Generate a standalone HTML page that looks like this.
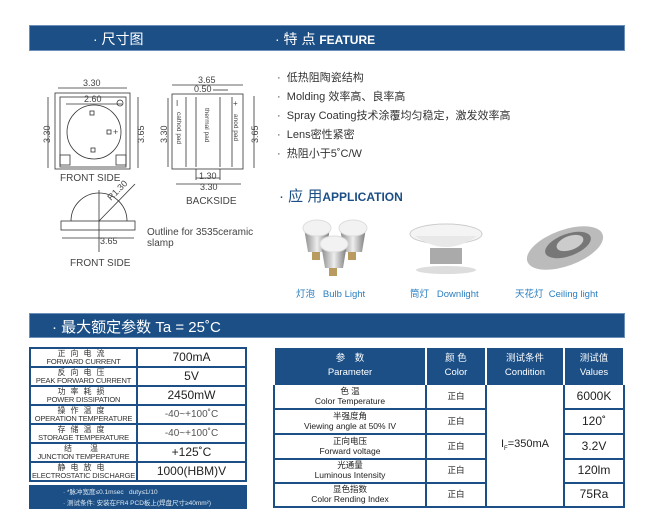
<!DOCTYPE html>
<html><head><meta charset="utf-8"><style>
*{margin:0;padding:0;box-sizing:border-box}
body{width:650px;height:532px;background:#fff;position:relative;overflow:hidden;font-family:"Liberation Sans","Noto Sans CJK SC",sans-serif;color:#222}
.bar{position:absolute;background:#1b4f86;color:#fff;border:1px solid #6b8fb8}
.a{position:absolute;white-space:nowrap}
table{border-collapse:collapse;position:absolute}
.lt{position:absolute;left:29px;top:347px;width:218px;border:2px solid #1b4f86;border-bottom:none}
.lr{display:flex;height:19px;border-bottom:2px solid #1b4f86}
.lk{width:107px;border-right:2px solid #1b4f86;text-align:center;overflow:hidden;white-space:nowrap;color:#333}
.lk b{font-weight:normal;letter-spacing:5px;font-size:8px;display:block;line-height:8px;margin-top:1px}
.lk i{font-style:normal;font-size:7.5px;display:block;line-height:8px;letter-spacing:-0.2px}
.lv{flex:1;text-align:center;font-size:12px;line-height:17px;white-space:nowrap}
.rt td{border:2px solid #1b4f86;text-align:center;font-size:8.5px;line-height:1.15}
.rt th{background:#1b4f86;color:#fff;font-weight:normal;font-size:9.5px;border:2px solid #fff;border-top:none;border-bottom:none;line-height:1.4}
.rt td.v{font-size:12px}
.feat{font-size:11px;color:#333}
.cap{font-size:9.5px;color:#2a7ec0}
</style></head><body>
<div class="bar" style="left:29px;top:25px;width:596px;height:26px"></div>
<div class="a" style="left:93px;top:29px;color:#fff;font-size:14px">· 尺寸图</div>
<div class="a" style="left:275px;top:29px;color:#fff;font-size:14px">· 特 点 <b style="font-size:12px">FEATURE</b></div>

<svg class="a" style="left:0;top:0" width="270" height="300" font-family="Liberation Sans" font-size="9" fill="#444">
<g stroke="#333" stroke-width="0.8" fill="none">
<rect x="55" y="93" width="75" height="76"/>
<rect x="60" y="97" width="66" height="70"/>
<circle cx="94" cy="132" r="27"/>
<rect x="60" y="155" width="10" height="10"/><rect x="116" y="155" width="10" height="10"/>
<rect x="90" y="111" width="4" height="4"/><rect x="107" y="130" width="4" height="4"/><rect x="91" y="148" width="4" height="4"/>
<circle cx="120" cy="103" r="3"/>
<line x1="58" y1="88" x2="127" y2="88"/><line x1="66" y1="104" x2="122" y2="104"/>
<line x1="48" y1="97" x2="48" y2="168"/><line x1="138" y1="97" x2="138" y2="168"/>
<rect x="172" y="94" width="71" height="75"/>
<line x1="186" y1="97" x2="186" y2="167"/><line x1="196" y1="97" x2="196" y2="167"/>
<line x1="220" y1="97" x2="220" y2="167"/><line x1="232" y1="97" x2="232" y2="167"/>
<line x1="172" y1="85" x2="243" y2="85"/><line x1="213" y1="90" x2="228" y2="90"/>
<line x1="168" y1="98" x2="168" y2="167"/><line x1="254" y1="96" x2="254" y2="168"/>
<line x1="196" y1="178" x2="220" y2="178"/><line x1="176" y1="184" x2="241" y2="184"/>
<line x1="196" y1="169" x2="196" y2="180"/><line x1="220" y1="169" x2="220" y2="180"/>
<rect x="61" y="221" width="74" height="9"/>
<path d="M71 221 A28 28 0 0 1 127 221"/>
<line x1="99" y1="190" x2="99" y2="252"/><line x1="99" y1="221" x2="135" y2="184"/>
<line x1="62" y1="238" x2="134" y2="238"/>
</g>
<text x="83" y="86">3.30</text><text x="84" y="102">2.60</text>
<text transform="translate(50 143) rotate(-90)">3.30</text>
<text transform="translate(144 143) rotate(-90)">3.65</text>
<text x="60" y="181" font-size="10">FRONT SIDE</text>
<text x="198" y="83">3.65</text><text x="194" y="92">0.50</text>
<text transform="translate(167 143) rotate(-90)">3.30</text>
<text transform="translate(258 143) rotate(-90)">3.65</text>
<text x="199" y="179">1.30</text><text x="200" y="190">3.30</text>
<text x="186" y="204" font-size="10">BACKSIDE</text>
<text transform="translate(111 201) rotate(-45)">R1.30</text>
<text x="100" y="244">3.65</text>
<text x="70" y="266" font-size="10">FRONT SIDE</text>
<text x="147" y="235" font-size="10">Outline for 3535ceramic</text>
<text x="147" y="246" font-size="10">slamp</text>
<text font-size="6.5" transform="translate(177 112) rotate(90)">cathod pad</text>
<text font-size="6.5" transform="translate(205 108) rotate(90)">thermal pad</text>
<text font-size="6.5" transform="translate(234 114) rotate(90)">anod pad</text>
<text x="176" y="106" font-size="8">I</text><text x="233" y="106" font-size="8">+</text>
<text x="113" y="135" font-size="9">+</text>
</svg>

<div class="a feat" style="left:277px;top:69px">·&nbsp; 低热阻陶瓷结构</div>
<div class="a feat" style="left:277px;top:88px">·&nbsp; Molding 效率高、良率高</div>
<div class="a feat" style="left:277px;top:107px">·&nbsp; Spray Coating技术涂覆均匀稳定，激发效率高</div>
<div class="a feat" style="left:277px;top:126px">·&nbsp; Lens密性紧密</div>
<div class="a feat" style="left:277px;top:145px">·&nbsp; 热阻小于5˚C/W</div>
<div class="a" style="left:279px;top:185px;color:#1b4f86;font-size:15px">· 应 用<b style="font-size:12px">APPLICATION</b></div>

<svg class="a" style="left:280px;top:218px" width="350" height="60">
<defs><linearGradient id="m" x1="0" x2="1"><stop offset="0" stop-color="#888"/><stop offset=".5" stop-color="#eee"/><stop offset="1" stop-color="#777"/></linearGradient></defs>
<g fill="url(#m)"><path d="M24 10 h26 l-4 24 h-18z"/><path d="M60 10 h26 l-4 24 h-18z"/><path d="M41 26 h26 l-4 24 h-18z"/></g>
<g fill="#f2f2f2" stroke="#ddd"><ellipse cx="37" cy="10" rx="14" ry="8"/><ellipse cx="73" cy="10" rx="14" ry="8"/><ellipse cx="54" cy="26" rx="14" ry="8"/></g>
<g fill="#b99a60"><rect x="32" y="34" width="8" height="8"/><rect x="68" y="34" width="8" height="8"/><rect x="49" y="50" width="8" height="8"/></g>
<ellipse cx="166" cy="16" rx="36" ry="10" fill="#f4f4f4" stroke="#ccc"/>
<path d="M135 18 Q166 40 197 18" fill="#e8e8e8"/>
<rect x="150" y="30" width="32" height="16" fill="#aaa"/>
<ellipse cx="166" cy="52" rx="30" ry="4" fill="#ddd"/>
<ellipse cx="285" cy="30" rx="40" ry="18" transform="rotate(-20 285 30)" fill="#bbb"/>
<ellipse cx="288" cy="27" rx="24" ry="11" transform="rotate(-20 288 27)" fill="#777"/>
<ellipse cx="290" cy="25" rx="14" ry="7" transform="rotate(-20 290 25)" fill="#ccc"/>
</svg>
<div class="a cap" style="left:296px;top:286px">灯泡&nbsp;&nbsp; Bulb Light</div>
<div class="a cap" style="left:410px;top:286px">筒灯&nbsp;&nbsp; Downlight</div>
<div class="a cap" style="left:515px;top:286px">天花灯&nbsp; Ceiling light</div>

<div class="bar" style="left:29px;top:313px;width:596px;height:25px"></div>
<div class="a" style="left:52px;top:316px;color:#fff;font-size:15px">· 最大额定参数 Ta = 25˚C</div>

<div class="lt">
<div class="lr"><div class="lk"><b>正向电流</b><i>FORWARD CURRENT</i></div><div class="lv">700mA</div></div>
<div class="lr"><div class="lk"><b>反向电压</b><i>PEAK FORWARD CURRENT</i></div><div class="lv">5V</div></div>
<div class="lr"><div class="lk"><b>功率耗损</b><i>POWER DISSIPATION</i></div><div class="lv">2450mW</div></div>
<div class="lr"><div class="lk"><b>操作温度</b><i>OPERATION TEMPERATURE</i></div><div class="lv" style="font-size:10px;color:#555">-40~+100˚C</div></div>
<div class="lr"><div class="lk"><b>存储温度</b><i>STORAGE TEMPERATURE</i></div><div class="lv" style="font-size:10px;color:#555">-40~+100˚C</div></div>
<div class="lr"><div class="lk"><b>结　温</b><i>JUNCTION TEMPERATURE</i></div><div class="lv">+125˚C</div></div>
<div class="lr"><div class="lk"><b>静电放电</b><i>ELECTROSTATIC DISCHARGE</i></div><div class="lv">1000(HBM)V</div></div>
</div>
<div class="a" style="left:29px;top:485px;width:218px;height:24px;background:#1b4f86;color:#dfe8f2;font-size:6.5px;padding:2px 0 0 34px;line-height:11px">· *脉冲宽度≤0.1msec&nbsp;&nbsp; duty≤1/10<br>· 测试条件: 安装在FR4 PCD板上(焊盘尺寸≥40mm²)</div>

<table class="rt" style="left:273px;top:348px;width:352px">
<colgroup><col style="width:152px"><col style="width:60px"><col style="width:78px"><col></colgroup>
<tr style="height:36px"><th>参　数<br>Parameter</th><th>颜 色<br>Color</th><th>测试条件<br>Condition</th><th>测试值<br>Values</th></tr>
<tr style="height:25px"><td>色 温<br>Color Temperature</td><td>正白</td><td rowspan="5" class="v" style="font-size:11px">I<sub style="font-size:6px">F</sub>=350mA</td><td class="v">6000K</td></tr>
<tr style="height:25px"><td>半强度角<br>Viewing angle at 50% IV</td><td>正白</td><td class="v">120˚</td></tr>
<tr style="height:25px"><td>正向电压<br>Forward voltage</td><td>正白</td><td class="v">3.2V</td></tr>
<tr style="height:24px"><td>光通量<br>Luminous Intensity</td><td>正白</td><td class="v">120lm</td></tr>
<tr style="height:24px"><td>显色指数<br>Color Rending Index</td><td>正白</td><td class="v">75Ra</td></tr>
</table>
</body></html>
